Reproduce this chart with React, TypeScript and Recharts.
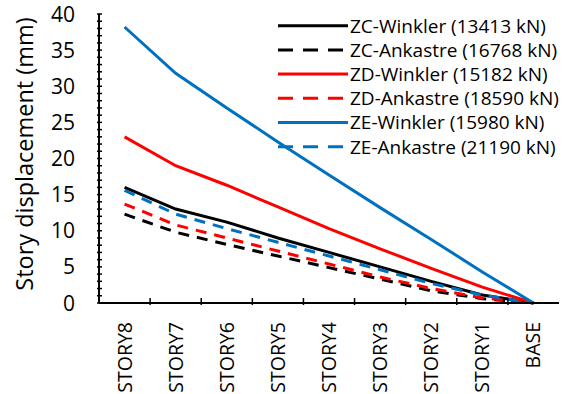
import { Legend, Line, LineChart, XAxis, YAxis } from "recharts";

const categories = ["STORY8", "STORY7", "STORY6", "STORY5", "STORY4", "STORY3", "STORY2", "STORY1", "BASE"];

const zcWinkler = [16.0, 13.0, 11.2, 9.0, 7.0, 5.0, 3.0, 1.1, 0];
const zcAnkastre = [12.3, 9.8, 8.1, 6.5, 4.9, 3.3, 1.7, 0.6, 0];
const zdWinkler = [23.0, 19.0, 16.3, 13.3, 10.3, 7.5, 4.8, 2.2, 0];
const zdAnkastre = [13.7, 10.8, 9.0, 7.2, 5.4, 3.6, 2.0, 0.7, 0];
const zeWinkler = [38.2, 31.8, 27.0, 22.3, 17.7, 13.2, 8.8, 4.3, 0];
const zeAnkastre = [15.6, 12.3, 10.3, 8.4, 6.5, 4.6, 2.7, 1.1, 0];

const yTicks = Array.from({ length: 41 }, (_, i) => i);

const FONT = "'Open Sans', sans-serif";
const DASH = "11 8";

const series = [
  { key: "zcW", name: "ZC-Winkler (13413 kN)", color: "#000000", dashed: false, values: zcWinkler },
  { key: "zcA", name: "ZC-Ankastre (16768 kN)", color: "#000000", dashed: true, values: zcAnkastre },
  { key: "zdW", name: "ZD-Winkler (15182 kN)", color: "#FF0000", dashed: false, values: zdWinkler },
  { key: "zdA", name: "ZD-Ankastre (18590 kN)", color: "#FF0000", dashed: true, values: zdAnkastre },
  { key: "zeW", name: "ZE-Winkler (15980 kN)", color: "#0070C0", dashed: false, values: zeWinkler },
  { key: "zeA", name: "ZE-Ankastre (21190 kN)", color: "#0070C0", dashed: true, values: zeAnkastre },
];

const data = categories.map((category, i) => {
  const row: Record<string, string | number> = { category };
  series.forEach((s) => {
    row[s.key] = s.values[i];
  });
  return row;
});

function XTick(props: any) {
  const { x, y, payload, index, width, visibleTicksCount } = props;
  const bw = width && visibleTicksCount ? width / visibleTicksCount : 51.2;
  return (
    <g>
      {index < categories.length - 1 && (
        <line x1={x + bw / 2} y1={y} x2={x + bw / 2} y2={y - 7} stroke="#000" strokeWidth={1.5} />
      )}
      <text
        x={0}
        y={0}
        transform={`translate(${x + 7}, ${y + 17}) rotate(-90)`}
        textAnchor="end"
        fontSize={19.5}
        fontFamily={FONT}
        fill="#000"
      >
        {payload.value}
      </text>
    </g>
  );
}

function YTick(props: any) {
  const { x, y, payload } = props;
  return (
    <g>
      <line x1={x} y1={y} x2={x + 5} y2={y} stroke="#000" strokeWidth={1.5} />
      {payload.value % 5 === 0 && (
        <text x={x - 22} y={y} dy="0.36em" textAnchor="end" fontSize={21} fontFamily={FONT} fill="#000">
          {payload.value}
        </text>
      )}
    </g>
  );
}

// legend box sits at left 276, top 12
function LegendBox() {
  return (
    <svg width={290} height={150}>
      {series.map((s, i) => {
        const cy = 13.7 + i * 24.2;
        return (
          <g key={s.key}>
            <line
              x1={2}
              y1={cy}
              x2={s.dashed ? 67 : 72}
              y2={cy}
              stroke={s.color}
              strokeWidth={3}
              strokeDasharray={s.dashed ? "15 10" : undefined}
            />
            <text x={74} y={cy + 6.8} fontSize={19} fontFamily={FONT} fill="#000">
              {s.name}
            </text>
          </g>
        );
      })}
    </svg>
  );
}

export default function App() {
  return (
    <div style={{ position: "absolute", left: 0, top: 0 }}>
      <LineChart width={566} height={394} data={data} margin={{ top: 14, right: 7, bottom: 0, left: 0 }}>
        <XAxis
          dataKey="category"
          scale="band"
          interval={0}
          height={91}
          tickSize={0}
          tickLine={false}
          axisLine={{ stroke: "#000", strokeWidth: 2 }}
          tick={<XTick />}
        />
        <XAxis xAxisId="top" dataKey="category" orientation="top" height={0} tick={false} tickLine={false} axisLine={{ stroke: "#000", strokeWidth: 1.5 }} />
        <YAxis
          domain={[0, 40]}
          ticks={yTicks}
          interval={0}
          width={99}
          tickSize={0}
          tickLine={false}
          axisLine={{ stroke: "#000", strokeWidth: 2 }}
          tick={<YTick />}
          label={{
            content: () => (
              <text
                x={0}
                y={0}
                transform="translate(24, 154) rotate(-90)"
                textAnchor="middle"
                dominantBaseline="central"
                fontSize={23.5}
                fontFamily={FONT}
                fill="#000"
              >
                Story displacement (mm)
              </text>
            ),
          }}
        />
        <YAxis yAxisId="right" orientation="right" width={0} domain={[0, 40]} tick={false} tickLine={false} axisLine={{ stroke: "#000", strokeWidth: 1.5 }} />
        <Legend
          layout="vertical"
          align="center"
          verticalAlign="middle"
          wrapperStyle={{ left: 276, top: 12, width: 290, height: 150 }}
          content={() => <LegendBox />}
        />
        {series.map((s) => (
          <Line
            key={s.key}
            type="linear"
            dataKey={s.key}
            name={s.name}
            stroke={s.color}
            strokeWidth={3}
            strokeDasharray={s.dashed ? DASH : undefined}
            dot={false}
            isAnimationActive={false}
          />
        ))}
      </LineChart>
    </div>
  );
}
